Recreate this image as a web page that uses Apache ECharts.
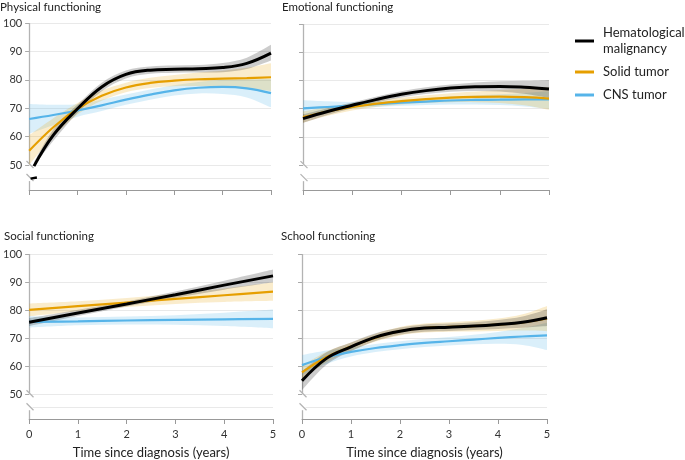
<!DOCTYPE html>
<html>
<head>
<meta charset="UTF-8">
<title></title>
<script src="https://cdn.jsdelivr.net/npm/echarts@6.0.0/dist/echarts.min.js"></script>
<style>html,body{margin:0;padding:0;background:#fff;}</style>
</head>
<body>
<div id="main" style="width:685px;height:460px;"></div>
<script type="text/javascript">
// group names
var groups = ['Hematological\nmalignancy', 'Solid tumor', 'CNS tumor'];
var panelTitles = ['Physical functioning', 'Emotional functioning', 'Social functioning', 'School functioning'];
var yTickLabels = [50, 60, 70, 80, 90, 100];
var xTickLabels = [0, 1, 2, 3, 4, 5];

// x positions of estimates (years)
var xsHalf = [0, 0.5, 1, 1.5, 2, 2.5, 3, 3.5, 4, 4.5, 5];
var xsPhysBlack = [0.1, 0.5, 1, 1.5, 2, 2.5, 3, 3.5, 4, 4.5, 5];
var xsYear = [0, 1, 2, 3, 4, 5];

// Physical functioning
var physBlack   = [49.6, 60.5, 69.8, 77.5, 81.9, 83.4, 83.7, 83.9, 84.3, 85.8, 89.4];
var physBlackLo = [49.5, 58.5, 68.3, 76, 80.5, 82.1, 82.5, 82.6, 82.7, 83.8, 86.8];
var physBlackHi = [51, 62.5, 71.3, 79, 83.3, 84.7, 85, 85.2, 85.9, 87.8, 92.3];
var physSolid   = [55, 63.3, 69.8, 74.4, 77.3, 78.9, 79.7, 80.2, 80.4, 80.6, 80.9];
var physSolidLo = [50, 60, 67.8, 72.6, 75.6, 77.1, 77.7, 77.8, 77.6, 77, 76];
var physSolidHi = [60.5, 66.5, 71.8, 76.2, 79, 80.7, 81.7, 82.6, 83.2, 84.2, 85.8];
var physCns     = [66.2, 67.6, 69.2, 71, 73, 74.8, 76.3, 77.2, 77.5, 77, 75.3];
var physCnsLo   = [61, 64, 67, 69, 71.2, 73, 74.5, 75.2, 75, 73.8, 70.3];
var physCnsHi   = [71.5, 71.2, 71.4, 73, 74.8, 76.6, 78.1, 79.2, 80, 80.2, 80.3];
// short piece of the hematological curve drawn below the axis break
var physBlackBelow = [[0.03, 45.2], [0.16, 45.6]];

// Emotional functioning
var emoBlack   = [66.5, 69, 71.2, 73.3, 75.1, 76.4, 77.3, 77.8, 77.9, 77.6, 77];
var emoBlackLo = [65, 67.8, 70.2, 72.3, 74, 75.2, 76, 76.3, 76.1, 75.3, 73.8];
var emoBlackHi = [68, 70.2, 72.2, 74.3, 76.2, 77.6, 78.6, 79.3, 79.7, 79.9, 80.2];
var emoSolid   = [67, 69, 70.6, 71.8, 72.7, 73.4, 73.9, 74.2, 74.3, 74.1, 73.6];
var emoSolidLo = [65, 67.5, 69.4, 70.7, 71.5, 72, 72.3, 72.3, 72, 71.2, 69.6];
var emoSolidHi = [69, 70.5, 71.8, 72.9, 73.9, 74.8, 75.5, 76.1, 76.6, 77, 77.6];
var emoCns     = [70.1, 70.6, 71.1, 71.6, 72.1, 72.5, 72.9, 73.1, 73.2, 73.3, 73.3];
var emoCnsLo   = [67.6, 68.9, 70, 70.6, 71, 71.3, 71.5, 71.5, 71.3, 70.8, 70];
var emoCnsHi   = [73, 72.6, 72.4, 72.6, 73.2, 73.7, 74.3, 74.7, 75.1, 75.6, 76.2];

// Social functioning
var socBlack   = [75.7, 79, 82.2, 85.5, 88.9, 92.2];
var socBlackLo = [74.3, 77.9, 81.3, 84.4, 87.3, 89.9];
var socBlackHi = [77.1, 80.1, 83.1, 86.6, 90.5, 94.5];
var socSolid   = [80.1, 81.4, 82.7, 84, 85.3, 86.6];
var socSolidLo = [77.8, 79.6, 81.1, 82.2, 82.9, 83.3];
var socSolidHi = [82.4, 83.2, 84.3, 85.8, 87.7, 89.9];
var socCns     = [75.8, 76, 76.3, 76.5, 76.7, 76.9];
var socCnsLo   = [73.8, 74.6, 74.9, 74.8, 74.3, 73.5];
var socCnsHi   = [77.8, 77.4, 77.7, 78.2, 79.1, 80.2];

// School functioning
var schBlack   = [54.8, 62.8, 66.9, 70.4, 72.5, 73.6, 73.9, 74.3, 74.9, 75.7, 77.3];
var schBlackLo = [51.5, 60.5, 65.3, 69, 71.2, 72.3, 72.6, 72.9, 73.3, 73.7, 74.3];
var schBlackHi = [58.2, 65, 68.5, 71.8, 73.8, 74.9, 75.2, 75.7, 76.5, 77.7, 80.3];
var schSolid   = [57.8, 63.3, 67, 70.2, 72.5, 73.6, 74, 74.3, 74.8, 75.6, 77];
var schSolidLo = [55.3, 61.4, 65.5, 68.8, 71, 72, 72.3, 72.4, 72.6, 72.7, 72.5];
var schSolidHi = [60.3, 65.2, 68.5, 71.6, 74, 75.2, 75.7, 76.2, 77, 78.5, 81.5];
var schCns     = [60.4, 63.2, 65.1, 66.5, 67.5, 68.3, 68.9, 69.5, 70.1, 70.6, 71];
var schCnsLo   = [56.8, 60.8, 63.5, 65.1, 66.1, 66.9, 67.4, 67.8, 68, 67.6, 65.8];
var schCnsHi   = [64, 65.6, 66.7, 67.9, 68.9, 69.7, 70.4, 71.2, 72.2, 73.6, 75.5];

var lineColors = ['#000000', '#E69F00', '#56B4E9'];
var bandColors = ['rgba(0,0,0,0.2)', 'rgba(230,159,0,0.2)', 'rgba(86,180,233,0.22)'];
var lineWidths = [3, 2.2, 2.2];

// panel -> groups (black, solid, cns) as [xs, mid, lo, hi]
var panels = [
    [[xsPhysBlack, physBlack, physBlackLo, physBlackHi], [xsHalf, physSolid, physSolidLo, physSolidHi], [xsHalf, physCns, physCnsLo, physCnsHi]],
    [[xsHalf, emoBlack, emoBlackLo, emoBlackHi], [xsHalf, emoSolid, emoSolidLo, emoSolidHi], [xsHalf, emoCns, emoCnsLo, emoCnsHi]],
    [[xsYear, socBlack, socBlackLo, socBlackHi], [xsYear, socSolid, socSolidLo, socSolidHi], [xsYear, socCns, socCnsLo, socCnsHi]],
    [[xsHalf, schBlack, schBlackLo, schBlackHi], [xsHalf, schSolid, schSolidLo, schSolidHi], [xsHalf, schCns, schCnsLo, schCnsHi]]
];

var grids = [
    {left: 24, top: 23, width: 247, height: 167},
    {left: 303, top: 24, width: 246, height: 166},
    {left: 25, top: 254, width: 248, height: 166},
    {left: 302, top: 254, width: 245, height: 166}
];
var titlePos = [[0, 1], [282, 1], [4, 230], [281, 230]];

var font = 'Lato, "Open Sans", sans-serif';
var yMin = 41.2, yBreakGrid = 45.4;

function pairs(xs, ys) {
    return xs.map(function (x, i) { return [x, ys[i]]; });
}

// smooth path (catmull-rom as cubic bezier) through pixel points
function curvePath(pts, move) {
    var d = (move ? 'M' : 'L') + pts[0][0] + ' ' + pts[0][1];
    for (var i = 0; i < pts.length - 1; i++) {
        var p0 = pts[Math.max(i - 1, 0)], p1 = pts[i], p2 = pts[i + 1], p3 = pts[Math.min(i + 2, pts.length - 1)];
        var c1x = p1[0] + (p2[0] - p0[0]) / 6, c1y = p1[1] + (p2[1] - p0[1]) / 6;
        var c2x = p2[0] - (p3[0] - p1[0]) / 6, c2y = p2[1] - (p3[1] - p1[1]) / 6;
        d += 'C' + c1x + ' ' + c1y + ' ' + c2x + ' ' + c2y + ' ' + p2[0] + ' ' + p2[1];
    }
    return d;
}

function bandSeries(p, xs, lo, hi, color) {
    return {
        type: 'custom', xAxisIndex: p, yAxisIndex: p, silent: true, z: 1, clip: true,
        data: xs.map(function (x, i) { return [x, lo[i], hi[i]]; }),
        encode: {x: 0, y: [1, 2]},
        renderItem: function (params, api) {
            if (params.dataIndex !== 0) return;
            var up = xs.map(function (x, i) { return api.coord([x, hi[i]]); });
            var dn = xs.map(function (x, i) { return api.coord([x, lo[i]]); }).reverse();
            return {
                type: 'path',
                shape: {pathData: curvePath(up, true) + curvePath(dn, false) + 'Z'},
                style: {fill: color, stroke: null}
            };
        }
    };
}

var xAxes = [], yAxes = [], series = [], titles = [];
for (var p = 0; p < 4; p++) {
    var bottom = p >= 2, left = p % 2 === 0;
    titles.push({
        text: panelTitles[p], left: titlePos[p][0], top: titlePos[p][1], padding: 0,
        textStyle: {fontFamily: font, fontSize: 11.5, fontWeight: 'normal', color: '#222'}
    });
    xAxes.push({
        type: 'value', gridIndex: p, min: 0, max: 5, interval: 1,
        axisLine: {lineStyle: {color: '#999', width: 1}},
        axisTick: {show: true, length: 5, lineStyle: {color: '#999'}},
        axisLabel: {show: bottom, fontFamily: font, fontSize: 11, color: '#333', margin: 10},
        splitLine: {show: false},
        name: bottom ? 'Time since diagnosis (years)' : '',
        nameLocation: 'middle', nameGap: 27,
        nameTextStyle: {fontFamily: font, fontSize: 13, color: '#222'}
    });
    yAxes.push({
        type: 'value', gridIndex: p, min: yMin, max: 100,
        axisLine: {show: false},
        axisTick: {show: true, length: 4, lineStyle: {color: '#aaa'}, customValues: yTickLabels},
        axisLabel: {show: left, fontFamily: font, fontSize: 11, color: '#333', margin: 7, customValues: yTickLabels},
        splitLine: {show: true, lineStyle: {color: '#e9e9e9', width: 1}}
    });
    var pd = panels[p];
    for (var g = 2; g >= 0; g--) {
        series.push(bandSeries(p, pd[g][0], pd[g][2], pd[g][3], bandColors[g]));
    }
    for (var g2 = 2; g2 >= 0; g2--) {
        series.push({
            name: groups[g2], type: 'line', xAxisIndex: p, yAxisIndex: p, smooth: 0.4,
            data: pairs(pd[g2][0], pd[g2][1]), symbol: 'none',
            lineStyle: {color: lineColors[g2], width: lineWidths[g2]},
            itemStyle: {color: lineColors[g2]}, z: 3
        });
    }
}
series.push({
    type: 'line', xAxisIndex: 0, yAxisIndex: 0, data: physBlackBelow, symbol: 'none',
    lineStyle: {color: '#000', width: 2.5}, z: 3
});

var chart = echarts.init(document.getElementById('main'));
chart.setOption({
    animation: false,
    title: titles,
    grid: grids,
    xAxis: xAxes,
    yAxis: yAxes,
    legend: {
        data: groups.map(function (n) { return {name: n, icon: 'rect'}; }),
        orient: 'vertical', left: 570, top: 20,
        itemWidth: 19, itemHeight: 3, itemGap: 7,
        textStyle: {fontFamily: font, fontSize: 13, color: '#222', lineHeight: 16, padding: [0, 0, 0, 4]}
    },
    series: series
});

// y axis line with a break, plus the extra grid line below the break
var gfx = [];
for (var k = 0; k < 4; k++) {
    var pTop = chart.convertToPixel({gridIndex: k}, [0, 100]);
    var pUp = chart.convertToPixel({gridIndex: k}, [0, 50]);
    var pLow = chart.convertToPixel({gridIndex: k}, [0, yBreakGrid]);
    var pBot = chart.convertToPixel({gridIndex: k}, [0, yMin]);
    var pRight = chart.convertToPixel({gridIndex: k}, [5, yBreakGrid]);
    var ax = Math.round(pTop[0]) + 0.5;
    var st = {stroke: '#b3b3b3', lineWidth: 1.3};
    gfx.push({type: 'line', z: 0, shape: {x1: ax + 3, y1: Math.round(pLow[1]) + 0.5, x2: pRight[0], y2: Math.round(pLow[1]) + 0.5}, style: {stroke: '#e9e9e9', lineWidth: 1}, silent: true});
    gfx.push({type: 'line', shape: {x1: ax, y1: pTop[1], x2: ax, y2: pUp[1] - 1}, style: st, silent: true});
    gfx.push({type: 'line', shape: {x1: ax, y1: pLow[1] + 3, x2: ax, y2: pBot[1]}, style: st, silent: true});
    gfx.push({type: 'line', shape: {x1: ax - 3, y1: pUp[1] - 4, x2: ax + 4, y2: pUp[1] + 3}, style: st, silent: true});
    gfx.push({type: 'line', shape: {x1: ax - 3, y1: pLow[1] - 4, x2: ax + 4, y2: pLow[1] + 3}, style: st, silent: true});
}
chart.setOption({graphic: gfx});
</script>
</body>
</html>
